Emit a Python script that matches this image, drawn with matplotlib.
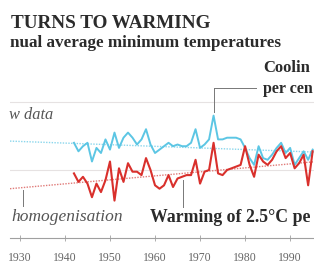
import numpy as np
import matplotlib
matplotlib.use("Agg")
import matplotlib.pyplot as plt
from matplotlib.lines import Line2D

# annual average minimum temperatures (degC)
years = np.arange(1942, 1996)
raw = [17.6, 17.1, 17.4, 17.6, 16.5, 17.3, 17.0, 17.8, 17.2, 18.2,
       17.3, 17.9, 18.2, 17.9, 17.5, 17.8, 18.4, 17.5, 17.0, 17.2,
       17.4, 17.6, 17.4, 17.5, 17.4, 17.4, 17.6, 18.4, 17.3, 17.5,
       17.8, 19.2, 17.8, 17.8, 17.9, 17.9, 17.9, 17.8, 17.3, 16.7,
       16.3, 17.4, 16.7, 16.6, 16.9, 17.3, 17.6, 17.0, 17.3, 16.3,
       16.7, 17.1, 16.6, 17.2]
homog = [15.8, 15.3, 15.6, 15.2, 14.4, 15.2, 14.7, 15.4, 16.5, 14.2,
         16.1, 15.3, 16.4, 15.9, 15.9, 15.7, 16.7, 16.0, 15.1, 14.9,
         15.1, 15.7, 15.0, 15.5, 15.6, 15.7, 15.7, 16.6, 15.2, 15.9,
         16.0, 17.6, 15.8, 15.7, 16.0, 16.1, 16.2, 16.3, 17.4, 16.3,
         15.6, 16.9, 16.5, 16.3, 16.6, 17.1, 17.4, 16.7, 17.0, 16.1,
         16.4, 16.9, 15.1, 17.1]
trend_years = [1927.8, 1996]
raw_trend = [17.7, 17.05]
homog_trend = [14.9, 16.5]
xticks = [1930, 1940, 1950, 1960, 1970, 1980, 1990]
xtick_labels = ["1930", "1940", "1950", "1960", "1970", "1980", "1990"]

W, H = 314, 269
BLUE = "#5cc6e4"
RED = "#d9302c"
SERIF = ["Liberation Serif", "DejaVu Serif"]


def fx(px):
    return px / W


def fy(py):
    return 1 - py / H


fig = plt.figure(figsize=(W / 100, H / 100), dpi=100)
ax = fig.add_axes([fx(10), fy(238), fx(304), 238 / H])
ax.set_xlim(1927.8, 1995.3)
ax.set_ylim(12, 26)

for g in [16, 20]:
    ax.axhline(g, color="#e6e2e2", lw=0.8, zorder=0)

ax.plot(trend_years, raw_trend, color="#8ad6ec", lw=1.0, ls=(0, (1, 1)), zorder=1)
ax.plot(trend_years, homog_trend, color="#e07a78", lw=1.0, ls=(0, (1, 1)), zorder=1)
ax.plot(years, raw, color=BLUE, lw=1.4, zorder=2)
ax.plot(years, homog, color=RED, lw=1.5, zorder=3)

for s in ["top", "right", "left"]:
    ax.spines[s].set_visible(False)
ax.spines["bottom"].set_color("#a0a0a0")
ax.spines["bottom"].set_linewidth(0.8)
ax.set_yticks([])
ax.set_xticks(xticks)
ax.set_xticklabels(xtick_labels, fontfamily=SERIF, fontsize=8.5, color="#666666")
ax.tick_params(axis="x", direction="inout", length=4, width=0.6, color="#a0a0a0", pad=8)

# leader lines
fig.add_artist(Line2D([fx(214), fx(214)], [fy(112), fy(88)], color="#777777", lw=0.7))
fig.add_artist(Line2D([fx(214), fx(256)], [fy(88), fy(88)], color="#777777", lw=0.7))
fig.add_artist(Line2D([fx(23), fx(23)], [fy(190), fy(206)], color="#777777", lw=0.7))
fig.add_artist(Line2D([fx(183), fx(183)], [fy(180), fy(207)], color="#777777", lw=0.7))

# texts (cut at the right edge as in the reference crop)
dark = "#2b2b2b"
fig.text(fx(11), fy(24), "TURNS TO WARMING", fontfamily=SERIF, fontweight="bold",
         fontsize=13.8, color=dark, va="center")
fig.text(fx(10), fy(43), "nual average minimum temperatures", fontfamily=SERIF,
         fontweight="bold", fontsize=12.3, color=dark, va="center")
fig.text(fx(263), fy(68), "Coolin", fontfamily=SERIF, fontweight="bold",
         fontsize=12, color=dark, va="center")
fig.text(fx(263), fy(89), "per cen", fontfamily=SERIF, fontweight="bold",
         fontsize=11.5, color=dark, va="center")
fig.text(fx(9), fy(115), "w data", fontfamily=SERIF, style="italic",
         fontsize=11.8, color="#555555", va="center")
fig.text(fx(11), fy(217), "homogenisation", fontfamily=SERIF, style="italic",
         fontsize=12.5, color="#555555", va="center")
fig.text(fx(150), fy(217), "Warming of 2.5°C pe", fontfamily=SERIF,
         fontweight="bold", fontsize=12.8, color=dark, va="center")

fig.savefig("out.png", dpi=100, facecolor="white")
